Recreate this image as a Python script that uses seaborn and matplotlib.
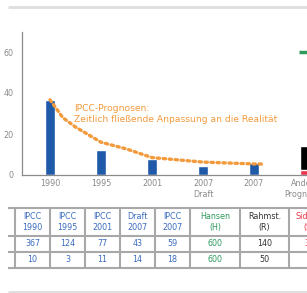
import matplotlib
matplotlib.use("Agg")
import matplotlib.pyplot as plt
import seaborn as sns
import pandas as pd
import numpy as np

# data (sea level projections, mm in table, cm on chart)
categories = ["1990", "1995", "2001", "2007\nDraft", "2007", "Andere\nPrognosen"]
ipcc_max = [367, 124, 77, 43, 59]
ipcc_min = [10, 3, 11, 14, 18]
hansen = [600, 600]
rahmst = [140, 50]
siddall = ["34", "7"]
red_bar = 25  # visible red part under the black bar

curve_pos = [0, 0.25, 0.5, 1, 1.5, 2, 3, 4, 4.2]
curve_val = [36.7, 28, 23.4, 16, 12.7, 8.5, 6.3, 5.4, 5.3]

table_head = ["IPCC\n1990", "IPCC\n1995", "IPCC\n2001", "Draft\n2007", "IPCC\n2007",
              "Hansen\n(H)", "Rahmst.\n(R)", "Siddall\n(S)"]
table_row1 = [str(v) for v in ipcc_max] + [str(hansen[0]), str(rahmst[0]), siddall[0]]
table_row2 = [str(v) for v in ipcc_min] + [str(hansen[1]), str(rahmst[1]), siddall[1]]

sns.set_style("white")
plt.rcParams['font.family'] = ['Liberation Sans Narrow', 'DejaVu Sans']

blue = '#1f5aa8'
orange = '#f39a3c'
green = '#2e9a5c'
red = '#e8334a'
grey = '#8a8a8a'

W, H = 307, 293
fig = plt.figure(figsize=(W / 100, H / 100), dpi=100)

# background overlay in pixel coordinates for separators and the table
bg = fig.add_axes([0, 0, 1, 1])
bg.set_xlim(0, W)
bg.set_ylim(H, 0)
bg.axis('off')
bg.hlines([7, 292], 8, W, color='#dedede', lw=2)

# main chart
x0, x1, ytop, ybot = 22, 307, 31.5, 175
ax = fig.add_axes([x0 / W, (H - ybot) / H, (x1 - x0) / W, (ybot - ytop) / H])
ax.patch.set_alpha(0)

df = pd.DataFrame({"cat": categories[:5], "val": np.array(ipcc_max) / 10})
sns.barplot(data=df, x="cat", y="val", order=categories, color=blue,
            width=0.19, saturation=1, ax=ax)
ax.bar(5, rahmst[0] / 10, width=0.2, color='black')
ax.bar(5, red_bar / 10, width=0.2, color=red)
ax.plot([4.88, 5.2], [hansen[0] / 10] * 2, color=green, lw=2.5, solid_capstyle='butt')

line = sns.lineplot(x=curve_pos, y=curve_val, color=orange, lw=2.4,
                    linestyle=(0, (0.7, 1.1)), ax=ax)
ax.lines[-1].set_dash_capstyle('round')

ax.text(0.48, 34.8, "IPCC-Prognosen:\nZeitlich fließende Anpassung an die Realität",
        color=orange, fontsize=6.6, va='top', ha='left', linespacing=1.35)

ax.set_xlim(-(50 - x0) / 51, -(50 - x0) / 51 + (x1 - x0) / 51)
ax.set_ylim(0, 70)
ax.set_xlabel("")
ax.set_ylabel("")
ax.set_yticks([0, 20, 40, 60])
ax.set_yticks([10, 30, 50, 70], minor=True)
ax.set_xticks(range(6))
ax.set_xticklabels(categories)
ax.set_xticks([0.5, 1.5, 2.5, 3.5, 4.5], minor=True)
ax.tick_params(axis='x', which='major', length=0, pad=3, labelsize=5.8, labelcolor=grey)
ax.tick_params(axis='x', which='minor', length=3, direction='out', color=grey, width=0.8)
ax.tick_params(axis='y', which='major', length=4, direction='out', color=grey, width=0.8,
               labelsize=5.8, labelcolor=grey, pad=2)
ax.tick_params(axis='y', which='minor', length=3, direction='out', color=grey, width=0.8)
for s in ['top', 'right']:
    ax.spines[s].set_visible(False)
for s in ['left', 'bottom']:
    ax.spines[s].set_color(grey)
    ax.spines[s].set_linewidth(0.9)

# table
col_edges = [15, 50, 85, 120, 155, 190, 240, 289, 330]
row_edges = [208, 236, 252, 268]
col_colors = ['#3a6cc0'] * 5 + [green, '#333333', red]
bg.hlines(row_edges, 8, W, color='#a8a8a8', lw=1.5)
bg.vlines(col_edges, row_edges[0], row_edges[-1], color='#a8a8a8', lw=1.5)
centers = [(a + b) / 2 for a, b in zip(col_edges[:-1], col_edges[1:])]
for i, c in enumerate(centers):
    kw = dict(color=col_colors[i], fontsize=5.8, ha='center', va='center')
    bg.text(c, (row_edges[0] + row_edges[1]) / 2, table_head[i], linespacing=1.2, **kw)
    bg.text(c, (row_edges[1] + row_edges[2]) / 2, table_row1[i], **kw)
    bg.text(c, (row_edges[2] + row_edges[3]) / 2, table_row2[i], **kw)

fig.savefig("out.png", dpi=100)
